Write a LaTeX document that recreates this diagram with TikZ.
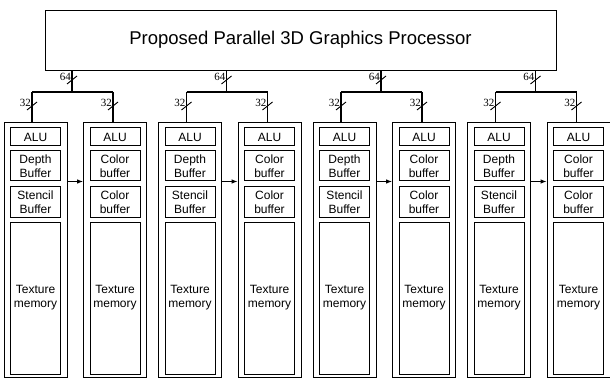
\documentclass[tikz,border=0pt]{standalone}
\usepackage{fontspec}
\setmainfont{Liberation Sans}
\newfontfamily\labelfont{Liberation Serif}
\usetikzlibrary{arrows.meta}
\tikzset{
  outerbox/.style={draw, line width=0.8pt, minimum width=63pt, minimum height=255pt, inner sep=0pt},
  innerbox/.style={draw, line width=1pt, minimum width=50pt, inner sep=0pt, align=center,
    font=\fontsize{12}{14}\selectfont},
  tree/.style={line width=1.4pt},
  slash/.style={line width=0.9pt},
  buswidth/.style={font=\labelfont\fontsize{11}{11}\selectfont, inner sep=0pt},
  flow/.style={line width=0.9pt, -{Latex[length=6pt,width=4.5pt]}},
  titlebox/.style={draw, line width=0.9pt, minimum width=511pt, minimum height=60pt,
    font=\fontsize{18.5}{20}\selectfont}
}
\begin{document}
\begin{tikzpicture}[x=1pt,y=-1pt]
\useasboundingbox (0,0) rectangle (610,382);
\node[titlebox] (top) at (300.5,40) {Proposed Parallel 3D Graphics Processor};
\foreach \g in {1,2,3,4}{
  \pgfmathsetmacro{\c}{72+154.5*(\g-1)}
  \pgfmathsetmacro{\lx}{\c-36.5}
  \pgfmathsetmacro{\rx}{\c+43}
  % outer boxes
  \node[outerbox] (L\g) at (\lx,249.5) {};
  \node[outerbox] (R\g) at (\rx,249.5) {};
  % inner boxes left
  \node[innerbox, minimum height=18pt] (La\g) at (\lx,137) {ALU};
  \node[innerbox, minimum height=30pt] (Ld\g) at (\lx,166) {Depth\\Buffer};
  \node[innerbox, minimum height=30pt] (Ls\g) at (\lx,202) {Stencil\\Buffer};
  \node[innerbox, minimum height=152pt] (Lt\g) at (\lx,298) {Texture\\memory};
  % inner boxes right
  \node[innerbox, minimum height=18pt] (Ra\g) at (\rx,137) {ALU};
  \node[innerbox, minimum height=30pt] (Rc\g) at (\rx,166) {Color\\buffer};
  \node[innerbox, minimum height=30pt] (Rk\g) at (\rx,202) {Color\\buffer};
  \node[innerbox, minimum height=152pt] (Rt\g) at (\rx,298) {Texture\\memory};
  % arrow between columns
  \draw[flow] (Ld\g.south -| L\g.east) -- (Ld\g.south -| R\g.west);
  % bus tree
  \coordinate (j\g) at (\c,92);
  \coordinate (jl\g) at (\c-40,92);
  \coordinate (jr\g) at (\c+41,92);
  \draw[tree] (top.south -| j\g) -- (j\g);
  \draw[tree] (jl\g) -- (jr\g);
  \draw[tree] (jl\g) -- (jl\g |- L\g.north);
  \draw[tree] (jr\g) -- (jr\g |- R\g.north);
  % slashes and widths
  \coordinate (s\g) at (\c,80);
  \coordinate (sl\g) at (\c-40,106);
  \coordinate (sr\g) at (\c+41,106);
  \draw[slash] ([shift={(-5,4)}]s\g) -- ([shift={(5,-4)}]s\g);
  \draw[slash] ([shift={(-5,4)}]sl\g) -- ([shift={(5,-4)}]sl\g);
  \draw[slash] ([shift={(-5,4)}]sr\g) -- ([shift={(5,-4)}]sr\g);
  \node[buswidth, anchor=east] (w\g) at ([shift={(-1,-3)}]s\g) {64};
  \node[buswidth, anchor=east] (wl\g) at ([shift={(-1,-3)}]sl\g) {32};
  \node[buswidth, anchor=east] (wr\g) at ([shift={(-1,-3)}]sr\g) {32};
}
\end{tikzpicture}
\end{document}
